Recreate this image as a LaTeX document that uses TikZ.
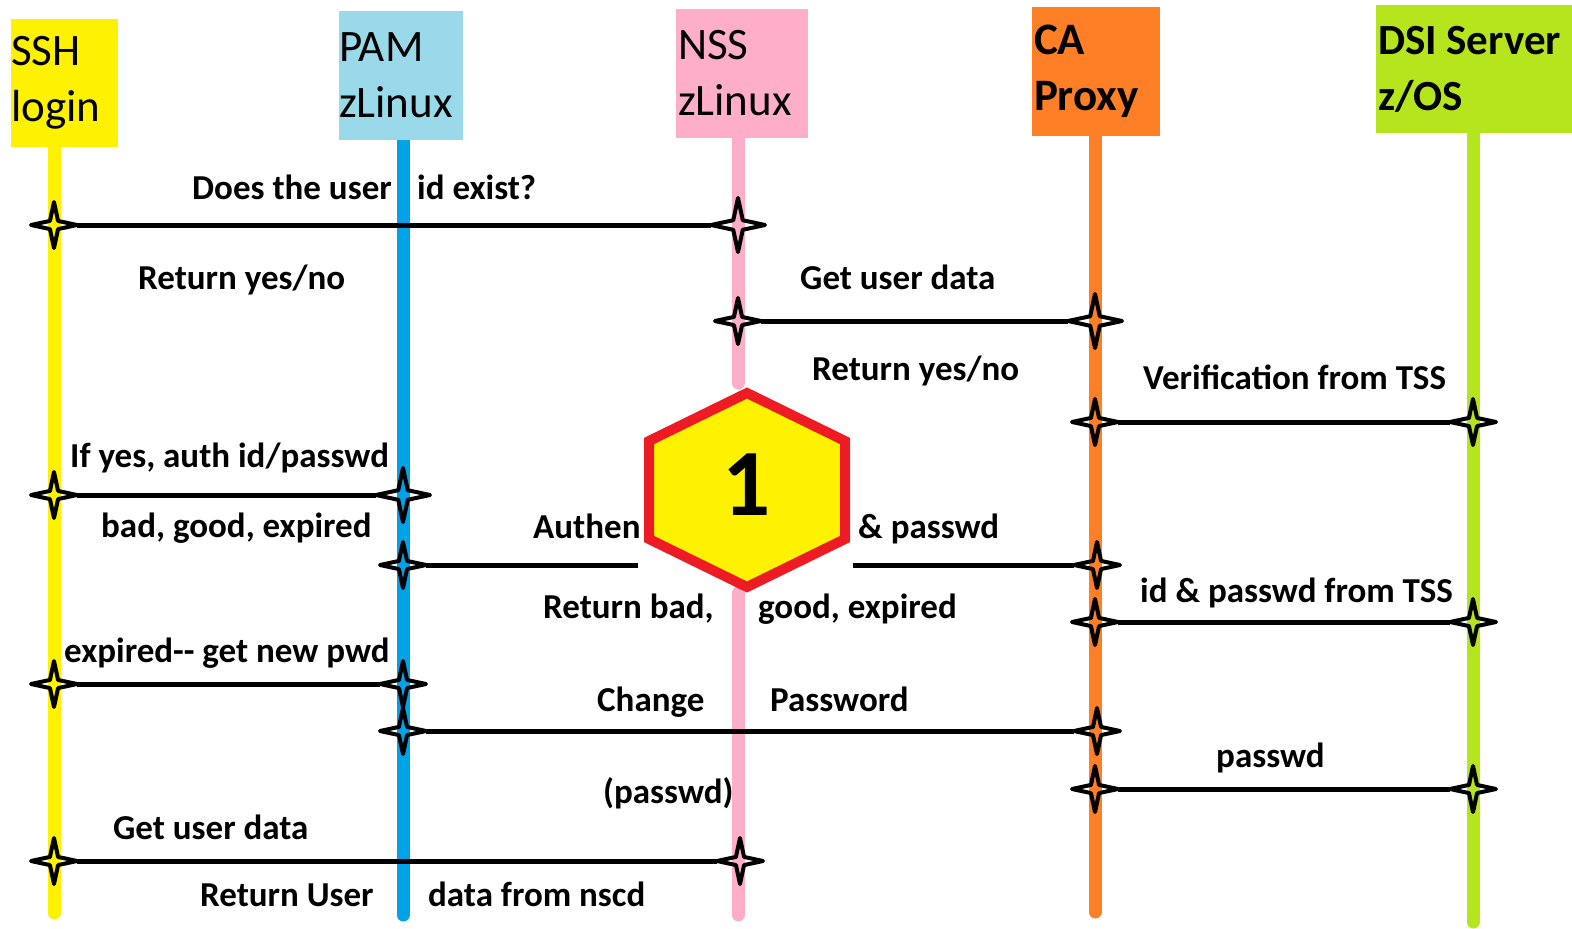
\documentclass[tikz,border=0pt]{standalone}
\usepackage{fontspec}
\setmainfont{Carlito}
\usetikzlibrary{shapes.geometric}

\definecolor{sshYellow}{HTML}{FFF200}
\definecolor{pamBox}{HTML}{99D9EA}
\definecolor{pamBlue}{HTML}{00A2E8}
\definecolor{nssPink}{HTML}{FFAEC9}
\definecolor{caOrange}{HTML}{FF7F27}
\definecolor{dsiGreen}{HTML}{B5E61D}
\definecolor{hexRed}{HTML}{ED1C24}

\tikzset{
  hdrbox/.style={rectangle, inner sep=0pt},
  hdr/.style={inner xsep=2pt, inner ysep=0pt, align=left, anchor=west,
    font=\fontsize{45}{56}\selectfont},
  life/.style={line width=13pt, line cap=round, draw=#1},
  msg/.style={line width=5pt},
  knot/.style={star, star points=4, star point ratio=4, draw, line width=4pt,
    line join=round, minimum size=46pt, inner sep=0pt, outer sep=0pt},
  bigknot/.style={knot, minimum size=54pt},
  lbl/.style={font=\fontsize{35}{42}\selectfont\bfseries, inner sep=0pt, anchor=base west},
}

\begin{document}
\begin{tikzpicture}[x=1pt,y=-1pt]
        \useasboundingbox (0,0) rectangle (1572,929);

        % lifelines
        \coordinate (sshTop) at (54,147);   \coordinate (sshBot) at (54,913);
        \coordinate (pamTop) at (403,140);  \coordinate (pamBot) at (403,915);
        \coordinate (nssTop) at (738,138);  \coordinate (nssMidA) at (738,383);
        \coordinate (nssMidB) at (738,593); \coordinate (nssBot) at (738,915);
        \coordinate (caTop) at (1095,136);  \coordinate (caBot) at (1095,912);
        \coordinate (dsiTop) at (1473,133); \coordinate (dsiBot) at (1473,922);
        \draw[life=sshYellow] (sshTop) -- (sshBot);
        \draw[life=pamBlue] (pamTop) -- (pamBot);
        \draw[life=nssPink] (nssTop) -- (nssMidA);
        \draw[life=nssPink] (nssMidB) -- (nssBot);
        \draw[life=caOrange] (caTop) -- (caBot);
        \draw[life=dsiGreen] (dsiTop) -- (dsiBot);

        % headers
        \node[hdrbox, fill=sshYellow, minimum width=107pt, minimum height=128pt] (ssh) at (64.5,83) {};
        \node[hdrbox, fill=pamBox, minimum width=124pt, minimum height=129pt] (pam) at (401,75.5) {};
        \node[hdrbox, fill=nssPink, minimum width=132pt, minimum height=129pt] (nss) at (742,73.5) {};
        \node[hdrbox, fill=caOrange, minimum width=128pt, minimum height=129pt] (ca) at (1096,71.5) {};
        \node[hdrbox, fill=dsiGreen, minimum width=196pt, minimum height=128pt] (dsi) at (1474,69) {};
        \node[hdr, inner xsep=0pt] (sshTxt) at (ssh.west) {SSH\\login};
        \node[hdr, inner xsep=0pt] (pamTxt) at (pam.west) {PAM\\zLinux};
        \node[hdr] (nssTxt) at (nss.west) {NSS\\zLinux};
        \node[hdr, font=\fontsize{45}{56}\selectfont\bfseries] (caTxt) at (ca.west) {CA\\Proxy};
        \node[hdr, font=\fontsize{43}{56}\selectfont\bfseries] (dsiTxt) at (dsi.west) {DSI Server\\z/OS};

        % message end points
        \node[knot] (k1a) at (54,225) {};     \node[bigknot] (k1b) at (738,225) {};
        \node[knot] (k2a) at (738,321) {};    \node[bigknot] (k2b) at (1095,321) {};
        \node[knot] (k3a) at (1095,422) {};   \node[knot] (k3b) at (1473,422) {};
        \node[knot] (k4a) at (54,495) {};     \node[bigknot] (k4b) at (403,495) {};
        \node[knot] (k5a) at (403,565) {};    \node[knot] (k5b) at (1097,565) {};
        \node[knot] (k6a) at (1095,622) {};   \node[knot] (k6b) at (1473,622) {};
        \node[knot] (k7a) at (54,684) {};     \node[knot] (k7b) at (403,684) {};
        \node[knot] (k8a) at (403,731) {};    \node[knot] (k8b) at (1097,731) {};
        \node[knot] (k9a) at (1095,789) {};   \node[knot] (k9b) at (1473,789) {};
        \node[knot] (k10a) at (54,861) {};    \node[knot] (k10b) at (740,861) {};

        \coordinate (hexL) at (638,565);
        \coordinate (hexR) at (853,565);

        \draw[msg] (k1a.outer point 4) -- (k1b.outer point 2);
        \draw[msg] (k2a.outer point 4) -- (k2b.outer point 2);
        \draw[msg] (k3a.outer point 4) -- (k3b.outer point 2);
        \draw[msg] (k4a.outer point 4) -- (k4b.outer point 2);
        \draw[msg] (k5a.outer point 4) -- (hexL);
        \draw[msg] (hexR) -- (k5b.outer point 2);
        \draw[msg] (k6a.outer point 4) -- (k6b.outer point 2);
        \draw[msg] (k7a.outer point 4) -- (k7b.outer point 2);
        \draw[msg] (k8a.outer point 4) -- (k8b.outer point 2);
        \draw[msg] (k9a.outer point 4) -- (k9b.outer point 2);
        \draw[msg] (k10a.outer point 4) -- (k10b.outer point 2);

        % labels
        \node[lbl, anchor=base east] (askA) at (392,199) {Does the user};
        \node[lbl] (askB) at (417,199) {id exist?};
        \node[lbl] (ansA) at (138,289) {Return yes/no};
        \node[lbl] (getA) at (800,289) {Get user data};
        \node[lbl] (ansB) at (812,380) {Return yes/no};
        \node[lbl] (verif) at (1143,389) {Verification from TSS};
        \node[lbl] (auth) at (70,467) {If yes, auth id/passwd};
        \node[lbl] (stat) at (101,537) {bad, good, expired};
        \node[lbl] (authA) at (533,538) {Authen};
        \node[lbl] (authB) at (858,538) {\& passwd};
        \node[lbl] (retA) at (543,618) {Return bad,};
        \node[lbl] (retB) at (758,618) {good, expired};
        \node[lbl] (idpw) at (1140,602) {id \& passwd from TSS};
        \node[lbl] (exp) at (64,662) {expired-{}- get new pwd};
        \node[lbl] (chgA) at (597,711) {Change};
        \node[lbl] (chgB) at (770,711) {Password};
        \node[lbl] (pwd) at (1216,767) {passwd};
        \node[lbl] (pwdp) at (603,803) {(passwd)};
        \node[lbl] (getB) at (113,839) {Get user data};
        \node[lbl] (usrA) at (200,906) {Return User};
        \node[lbl] (usrB) at (428,906) {data from nscd};

        % step marker
        \draw[line width=10pt, draw=hexRed, fill=sshYellow, line join=miter]
          (747,393) -- (845,441) -- (845,539) -- (747,587) -- (649,539) -- (649,441) -- cycle;
        \node[font=\fontsize{95}{95}\selectfont\bfseries, inner sep=0pt, anchor=base] (hexNum) at (747,515) {1};
      \end{tikzpicture}
\end{document}
